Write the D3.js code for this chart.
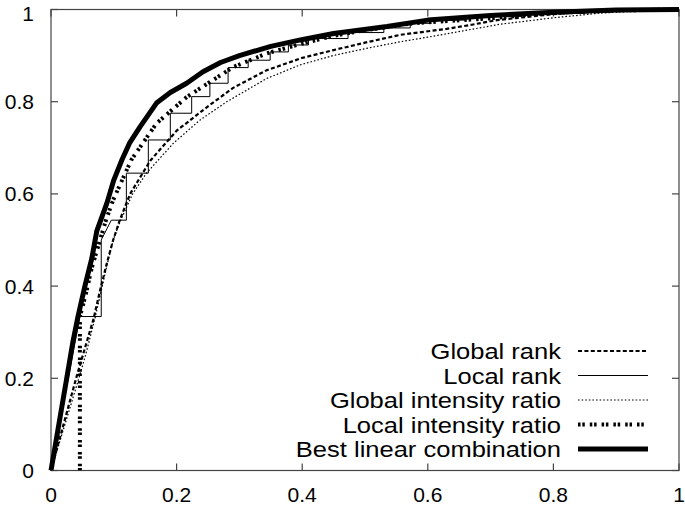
<!DOCTYPE html>
<html><head><meta charset="utf-8">
<script src="https://cdn.jsdelivr.net/npm/d3@7"></script>
<style>html,body{margin:0;padding:0;background:#fff;} svg{display:block;}</style>
</head><body>
<svg id="c" width="685" height="506"></svg>
<script>
const ticks = [0, 0.2, 0.4, 0.6, 0.8, 1];
const tickLabels = ["0", "0.2", "0.4", "0.6", "0.8", "1"];
const seriesNames = ["Global rank", "Local rank", "Global intensity ratio", "Local intensity ratio", "Best linear combination"];

const globalRankFpr = [0,0.02,0.04,0.055,0.068,0.078,0.089,0.099,0.11,0.126,0.158,0.2,0.25,0.29,0.343,0.4,0.45,0.5,0.556,0.63,0.67,0.71,0.8,0.895,1];
const globalRankTpr = [0,0.1,0.2,0.27,0.33,0.39,0.45,0.5,0.545,0.6,0.672,0.737,0.79,0.83,0.868,0.895,0.912,0.928,0.945,0.958,0.967,0.977,0.99,0.998,1];

const localRankFpr = [0,0.046,0.08,0.08,0.096,0.12,0.12,0.155,0.155,0.19,0.19,0.224,0.224,0.253,0.253,0.282,0.282,0.314,0.314,0.349,0.349,0.378,0.378,0.41,0.41,0.473,0.473,0.53,0.53,0.572,0.572,0.604,0.604,0.66,0.66,0.75,0.75,0.85,0.85,0.95,1];
const localRankTpr = [0,0.334,0.334,0.5,0.543,0.543,0.645,0.645,0.717,0.717,0.775,0.775,0.811,0.811,0.84,0.84,0.874,0.874,0.89,0.89,0.908,0.908,0.923,0.923,0.937,0.937,0.95,0.95,0.96,0.96,0.97,0.97,0.977,0.977,0.985,0.985,0.992,0.992,0.997,0.997,1];

const globalIntFpr = [0,0.02,0.04,0.055,0.07,0.08,0.09,0.099,0.11,0.13,0.152,0.195,0.237,0.28,0.343,0.397,0.449,0.5,0.556,0.6,0.715,0.8,0.874,0.95,1];
const globalIntTpr = [0,0.09,0.18,0.25,0.33,0.39,0.45,0.5,0.54,0.6,0.645,0.71,0.76,0.8,0.85,0.88,0.9,0.915,0.93,0.94,0.968,0.982,0.992,0.998,1];

const localIntFpr = [0.046,0.046,0.055,0.065,0.078,0.088,0.099,0.128,0.168,0.216,0.25,0.29,0.344,0.397,0.45,0.5,0.576,0.7,0.789,0.9,1];
const localIntTpr = [0,0.334,0.38,0.44,0.5,0.545,0.587,0.674,0.753,0.81,0.84,0.875,0.905,0.925,0.943,0.955,0.97,0.981,0.992,0.998,1];

const bestFpr = [0,0.005,0.015,0.025,0.035,0.043,0.054,0.065,0.073,0.089,0.1,0.113,0.125,0.142,0.168,0.19,0.216,0.242,0.27,0.3,0.35,0.397,0.45,0.535,0.6,0.7,0.8,0.9,1];
const bestTpr = [0,0.04,0.12,0.2,0.28,0.334,0.4,0.46,0.52,0.58,0.63,0.674,0.71,0.746,0.797,0.82,0.84,0.865,0.885,0.9,0.92,0.934,0.948,0.963,0.977,0.987,0.994,0.999,1];

const svg = d3.select("#c");
const L = 51, R = 679, T = 9.5, B = 470.5;
const x = d3.scaleLinear().domain([0,1]).range([L,R]);
const y = d3.scaleLinear().domain([0,1]).range([B,T]);
const font = "'Liberation Sans', Arial, Helvetica, sans-serif";

// frame
svg.append("rect").attr("x",L).attr("y",T).attr("width",R-L).attr("height",B-T)
  .attr("fill","none").attr("stroke","#444").attr("stroke-width",1.2);

// ticks (inward, mirrored)
const tl = 7;
const tg = svg.append("g").attr("stroke","#444").attr("stroke-width",1.2);
ticks.forEach(t => {
  tg.append("line").attr("x1",x(t)).attr("x2",x(t)).attr("y1",B).attr("y2",B-tl);
  tg.append("line").attr("x1",x(t)).attr("x2",x(t)).attr("y1",T).attr("y2",T+tl);
  tg.append("line").attr("x1",L).attr("x2",L+tl).attr("y1",y(t)).attr("y2",y(t));
  tg.append("line").attr("x1",R).attr("x2",R-tl).attr("y1",y(t)).attr("y2",y(t));
});
// tick labels
ticks.forEach((t,i) => {
  svg.append("text").attr("x",x(t)).attr("y",502).attr("text-anchor","middle")
    .attr("font-family",font).attr("font-size",21).attr("fill","#000").text(tickLabels[i]);
  svg.append("text").attr("x",34).attr("y",Math.max(y(t)+7.5, 21)).attr("text-anchor","end")
    .attr("font-family",font).attr("font-size",21).attr("fill","#000").text(tickLabels[i]);
});

const styles = [
  {w:2.2, dash:"4,2.4"},
  {w:1, dash:null},
  {w:1.2, dash:"1.6,2"},
  {w:4, dash:"2.5,1.8,2.5,5"},
  {w:5, dash:null}
];
const data = [
  globalRankFpr.map((f,i)=>[f,globalRankTpr[i]]),
  localRankFpr.map((f,i)=>[f,localRankTpr[i]]),
  globalIntFpr.map((f,i)=>[f,globalIntTpr[i]]),
  localIntFpr.map((f,i)=>[f,localIntTpr[i]]),
  bestFpr.map((f,i)=>[f,bestTpr[i]])
];
const line = d3.line().x(d=>x(d[0])).y(d=>y(d[1]));
svg.append("defs").append("clipPath").attr("id","pc")
  .append("rect").attr("x",L-3).attr("y",T-3).attr("width",R-L+6).attr("height",B-T+3);
const pg = svg.append("g").attr("clip-path","url(#pc)");
data.forEach((d,i) => {
  const p = pg.append("path").attr("d",line(d)).attr("fill","none").attr("stroke","#000")
    .attr("stroke-width",styles[i].w).attr("stroke-linejoin","round");
  if (styles[i].dash) p.attr("stroke-dasharray",styles[i].dash);
});

// legend
const baseY = [359, 383.5, 408, 432.5, 457];
seriesNames.forEach((n,i) => {
  svg.append("g").attr("transform",`translate(561,${baseY[i]}) scale(1.16,1)`)
    .append("text").attr("x",0).attr("y",0).attr("text-anchor","end")
    .attr("font-family",font).attr("font-size",22).attr("fill","#000").text(n);
  const l = svg.append("line").attr("x1",578).attr("x2",648).attr("y1",baseY[i]-8).attr("y2",baseY[i]-8)
    .attr("stroke","#000").attr("stroke-width",styles[i].w);
  if (styles[i].dash) l.attr("stroke-dasharray",styles[i].dash);
});
</script>
</body></html>
